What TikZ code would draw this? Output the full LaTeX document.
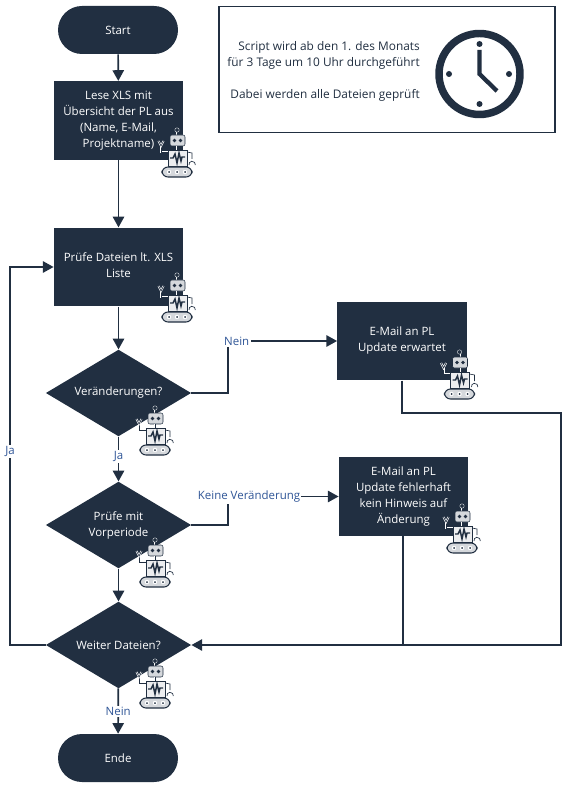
\documentclass[tikz,border=0pt]{standalone}
\usepackage{fontspec}
\setmainfont{Open Sans}
\usepackage{tikz}
\usetikzlibrary{shapes.geometric, arrows.meta, positioning}

\definecolor{navy}{HTML}{212F41}
\definecolor{linkblue}{HTML}{2F5597}
\definecolor{robotgrey}{HTML}{D5D8DC}

\begin{document}
\begin{tikzpicture}[
    x=0.75pt, y=0.75pt,
    every node/.style={font=\fontsize{8.6}{12}\selectfont},
    terminal/.style={rectangle, rounded corners=18pt, fill=navy, text=white, minimum width=90pt, minimum height=36pt, inner sep=0pt},
    task/.style={rectangle, fill=navy, text=white, align=center, minimum width=97pt, minimum height=59pt, inner sep=0pt},
    decision/.style={diamond, shape aspect=1.686, fill=navy, text=white, align=center, minimum width=109pt, minimum height=65pt, inner sep=0pt},
    infobox/.style={rectangle, draw=navy, line width=0.8pt, fill=white, minimum width=252pt, minimum height=95pt},
    infotext/.style={align=right, text=navy, inner sep=0pt, anchor=north east, font=\fontsize{8.9}{12}\selectfont},
    arrow/.style={-{Triangle[length=8pt, width=8.5pt]}, line width=1.25pt, draw=navy},
    link/.style={line width=1.25pt, draw=navy},
    edgelabel/.style={fill=white, text=linkblue, inner sep=1pt},
    robotline/.style={navy, line width=0.5pt, preaction={draw=white, line width=1.5pt}},
    robot/.pic={
        % antenna and head
        \draw[robotline] (0,22) -- (0,19);
        \fill[navy, draw=robotgrey, line width=0.3pt] (0,24) circle (2.2);
        \fill[robotgrey, draw=navy, line width=0.4pt, rounded corners=1.5pt] (-7,8) rectangle (8,19);
        \fill[navy] (-2.5,13.5) circle (1.9) (3.5,13.5) circle (1.9);
        \draw[robotline] (0,8) -- (0,4);
        % arms
        \draw[robotline] (-9,2) -- (-16,2) -- (-16,8);
        \draw[robotline] (-18.5,13) -- (-16,8) -- (-13.5,13);
        \draw[robotline] (10,2) -- (15,1) -- (15,-5);
        \draw[robotline] (12,-11) arc[start angle=190, end angle=-10, radius=3.2];
        % body
        \draw[navy, line width=0.7pt, fill=robotgrey!45] (-9,4) rectangle (10,-12);
        \draw[navy, line width=1.1pt] (-7,-4) -- (-4,-4) -- (-2,0) -- (0,-9) -- (2,1) -- (4,-7) -- (5,-3) -- (8,-3);
        % tread
        \draw[navy, line width=0.8pt, fill=robotgrey, rounded corners=4.5pt] (-15,-13) rectangle (15,-23);
        \fill[white] (-8,-18) circle (2.2) (0,-18) circle (2.2) (8,-18) circle (2.2);
        \fill[navy] (-8,-18) circle (1) (0,-18) circle (1) (8,-18) circle (1);
    }
]
\useasboundingbox (0,0) rectangle (573,-791);

% Nodes using absolute positioning
\node[terminal] (start) at (118,-30) {Start};
\node[task] (readxls) at (118.5,-120.5) {Lese XLS mit\\Übersicht der PL aus\\(Name, E-Mail,\\Projektname)};
\node[task] (checkfiles) at (118.5,-267) {};
\node[text=white, align=center] (checktext) at (118.5,-265) {Prüfe Dateien lt. XLS\\Liste};
\node[decision] (changes) at (118.5,-393) {Veränderungen?};
\node[decision] (period) at (118.5,-525) {Prüfe mit\\Vorperiode};
\node[decision] (more) at (118.5,-645) {Weiter Dateien?};
\node[terminal] (finish) at (118,-758) {Ende};
\node[task] (mailone) at (402,-341) {E-Mail an PL\\Update erwartet};
\node[task] (mailtwo) at (403.5,-496.5) {E-Mail an PL\\Update fehlerhaft\\kein Hinweis auf\\Änderung};

% Info box with clock
\node[infobox] (info) at (387,-69.5) {};
\node[infotext] (infolines) at (420,-41) {Script wird ab den 1. des Monats\\für 3 Tage um 10 Uhr durchgeführt\\[12.4pt]Dabei werden alle Dateien geprüft};
\coordinate (clockmid) at (479.5,-74);
\draw[navy, line width=5.6pt] (clockmid) circle (40.5);
\fill[navy] (479.5,-44) circle (3) (479.5,-104) circle (3) (449,-74) circle (3) (509,-74) circle (3);
\draw[navy, line width=3.2pt] (479.5,-50) -- (clockmid) -- (497,-91);

% Bends
\coordinate (bendone) at (228,-393);
\coordinate (bendtwo) at (228,-525);
\coordinate (bendthree) at (561,-413);
\coordinate (bendfour) at (402,-413);
\coordinate (bendfive) at (10,-645);
\coordinate (outtwo) at (403,-536);
\coordinate (jointwo) at (403,-645);

% Arrows
\draw[arrow] (start) -- (readxls);
\draw[arrow] (readxls) -- (checkfiles);
\draw[arrow] (checkfiles) -- (changes);
\draw[arrow] (changes) -- node[edgelabel, pos=0.45] {Ja} (period);
\draw[arrow] (period) -- (more);
\draw[arrow] (more) -- node[edgelabel, pos=0.5] {Nein} (finish);
\draw[arrow] (changes.east) -- (bendone) |- node[edgelabel, pos=0.54] {Nein} (mailone.west);
\draw[arrow] (period.east) -- (bendtwo) |- node[edgelabel, pos=0.595] {Keine Veränderung} (mailtwo.west);
\draw[arrow] (mailone.south -| bendfour) -- (bendfour) -- (bendthree) |- (more.east);
\draw[link] (outtwo) -- (jointwo);
\draw[arrow] (more.west) -- (bendfive) |- node[edgelabel, pos=0.256] {Ja} (checkfiles.west);

% Robots
\foreach \rx/\ry in {177/-154, 177/-299, 155/-432, 155/-564, 155/-685, 459.5/-376, 462/-530}
    \pic at (\rx,\ry) {robot};

\end{tikzpicture}
\end{document}
